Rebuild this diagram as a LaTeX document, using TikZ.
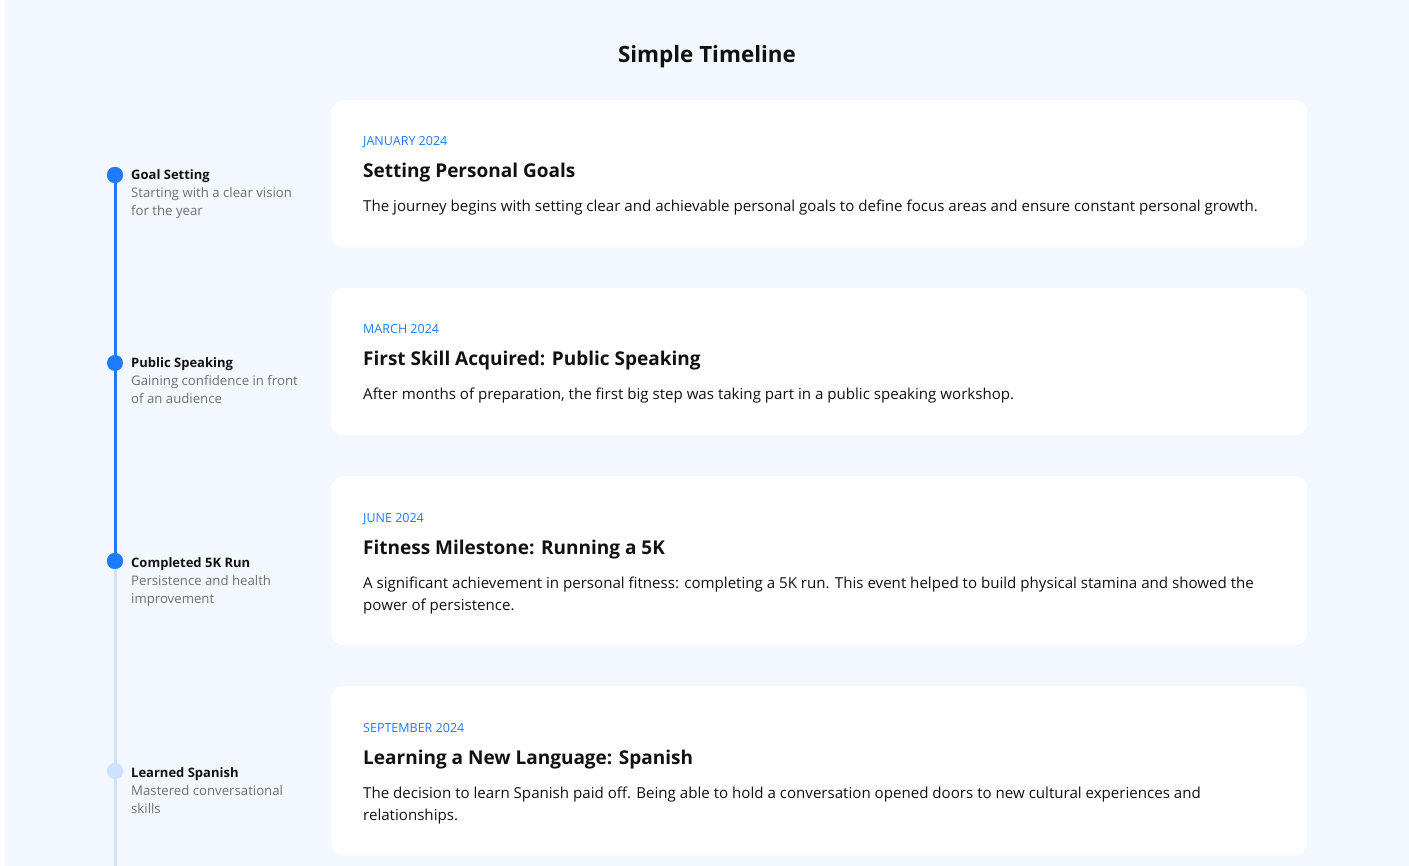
\documentclass[tikz,border=0pt]{standalone}
\usepackage{fontspec}
\setmainfont{Open Sans}
\usetikzlibrary{positioning}
\definecolor{tlblue}{RGB}{30,123,255}
\definecolor{tllight}{RGB}{206,225,255}
\definecolor{pagebg}{RGB}{243,248,255}
\definecolor{subgray}{RGB}{112,112,112}
\definecolor{ink}{RGB}{17,17,17}
\tikzset{
  card/.style={fill=white,rounded corners=12pt,inner sep=0pt,anchor=north west,minimum width=976pt},
  dot/.style={circle,fill=tlblue,minimum size=16pt,inner sep=0pt},
  dotoff/.style={dot,fill=tllight},
  lbl/.style={anchor=base west,inner sep=0pt,text=ink,font=\fontsize{13}{18}\selectfont\bfseries},
  sub/.style={anchor=base west,inner sep=0pt,text=subgray,align=left,font=\fontsize{13.2}{18}\selectfont},
  date/.style={anchor=base west,inner sep=0pt,text=tlblue,font=\fontsize{12.5}{15}\selectfont},
  head/.style={anchor=base west,inner sep=0pt,text=ink,font=\fontsize{19}{24}\selectfont\bfseries},
  body/.style={anchor=base west,inner sep=0pt,text=ink,align=left,font=\fontsize{15.1}{22}\selectfont}
}
\begin{document}
\begin{tikzpicture}[x=1pt,y=-1pt,line cap=round]
  \fill[white] (0,0) rectangle (1409,866);
  \fill[pagebg] (5,0) rectangle (1409,866);
  \useasboundingbox (0,0) rectangle (1409,866);
  \node[anchor=base,inner sep=0pt,text=ink,font=\fontsize{22.4}{26}\selectfont\bfseries] (title) at (707,63) {Simple Timeline};
  % cards
  \node[card,minimum height=147pt] (c1) at (331,100) {};
  \node[card,minimum height=147pt] (c2) at (331,288) {};
  \node[card,minimum height=169pt] (c3) at (331,476) {};
  \node[card,minimum height=169pt] (c4) at (331,686) {};
  % timeline
  \node[dot] (d1) at (115,175) {};
  \node[dot] (d2) at (115,363) {};
  \node[dot] (d3) at (115,561) {};
  \node[dotoff] (d4) at (115,771) {};
  \coordinate (tend) at (115,866);
  \draw[tllight,line width=3pt,line cap=butt] (d3.center) -- (tend);
  \draw[tlblue,line width=3pt,line cap=butt] (d1.center) -- (d3.center);
  \node[dot] at (d1) {};
  \node[dot] at (d3) {};
  \node[dotoff] at (d4) {};
  % labels left (multi-line nodes sit on their last line)
  \node[lbl] (l1) at (131,180) {Goal Setting};
  \node[sub] (s1) at (131,216) {Starting with a clear vision\\for the year};
  \node[lbl] (l2) at (131,368) {Public Speaking};
  \node[sub] (s2) at (131,404) {Gaining confidence in front\\of an audience};
  \node[lbl] (l3) at (131,567) {Completed 5K Run};
  \node[sub] (s3) at (131,603) {Persistence and health\\improvement};
  \node[lbl] (l4) at (131,777) {Learned Spanish};
  \node[sub] (s4) at (131,813) {Mastered conversational\\skills};
  % card texts
  \node[date] (t1) at (363,146) {JANUARY 2024};
  \node[head] (h1) at (363,178) {Setting Personal Goals};
  \node[body] (b1) at (363,212) {The journey begins with setting clear and achievable personal goals to define focus areas and ensure constant personal growth.};
  \node[date] (t2) at (363,334) {MARCH 2024};
  \node[head] (h2) at (363,366) {First Skill Acquired: Public Speaking};
  \node[body] (b2) at (363,400) {After months of preparation, the first big step was taking part in a public speaking workshop.};
  \node[date] (t3) at (363,522) {JUNE 2024};
  \node[head] (h3) at (363,554) {Fitness Milestone: Running a 5K};
  \node[body] (b3) at (363,610) {A significant achievement in personal fitness: completing a 5K run. This event helped to build physical stamina and showed the\\power of persistence.};
  \node[date] (t4) at (363,732) {SEPTEMBER 2024};
  \node[head] (h4) at (363,764) {Learning a New Language: Spanish};
  \node[body] (b4) at (363,820) {The decision to learn Spanish paid off. Being able to hold a conversation opened doors to new cultural experiences and\\relationships.};
\end{tikzpicture}
\end{document}
